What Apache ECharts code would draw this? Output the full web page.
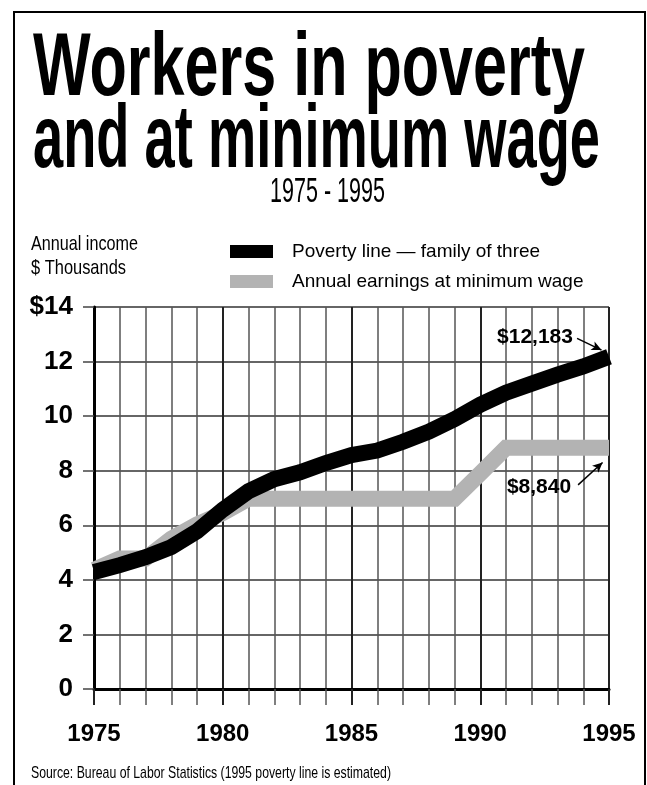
<!DOCTYPE html>
<html>
<head>
<meta charset="utf-8">
<script src="https://cdn.jsdelivr.net/npm/echarts@6/dist/echarts.min.js"></script>
<style>html,body{margin:0;padding:0;background:#fff}#c{width:647px;height:785px}</style>
</head>
<body>
<div id="c"></div>
<script>
// ---- data ----
const years = [1975,1976,1977,1978,1979,1980,1981,1982,1983,1984,1985,1986,1987,1988,1989,1990,1991,1992,1993,1994,1995];
const povertyLine = [4.29,4.54,4.83,5.20,5.78,6.57,7.25,7.69,7.94,8.28,8.57,8.74,9.06,9.43,9.89,10.42,10.86,11.19,11.52,11.82,12.18];
const minWageEarnings = [4.37,4.78,4.78,5.51,6.03,6.45,6.97,6.97,6.97,6.97,6.97,6.97,6.97,6.97,6.97,7.90,8.84,8.84,8.84,8.84,8.84];
const seriesNames = ['Poverty line \u2014 family of three', 'Annual earnings at minimum wage'];
const yTickValues = [0,2,4,6,8,10,12,14];
const yTickLabels = ['0','2','4','6','8','10','12','$14'];
const annotationTexts = ['$12,183', '$8,840'];

const FAMILY = "'Liberation Sans',Arial,sans-serif";

const cv = document.createElement('canvas').getContext('2d');
function fitText(text, x, y, targetW, size, weight, align) {
  cv.font = weight + ' ' + size + 'px ' + FAMILY;
  const w = cv.measureText(text).width;
  return {
    type: 'text', x: x, y: y, scaleX: targetW / w, silent: true,
    style: { text: text, fontSize: size, fontWeight: weight, fontFamily: FAMILY, fill: '#000',
      align: align, textAlign: align, verticalAlign: 'middle', textVerticalAlign: 'middle' }
  };
}

const chart = echarts.init(document.getElementById('c'), null, {renderer: 'canvas'});
const pairs = (vals) => years.map((y, i) => [y, vals[i]]);

const option = {
  animation: false,
  backgroundColor: '#fff',
  grid: { left: 94, right: 38, top: 307, bottom: 96, containLabel: false },
  legend: {
    orient: 'vertical', left: 230, top: 242, padding: 0,
    itemWidth: 43, itemHeight: 13, itemGap: 11, icon: 'rect',
    selectedMode: false,
    textStyle: { fontFamily: FAMILY, fontSize: 19, color: '#000', padding: [0,0,0,14] },
    data: [seriesNames[0], seriesNames[1]]
  },
  xAxis: {
    type: 'value', min: 1975, max: 1995, interval: 5,
    axisLine: { show: true, onZero: false, lineStyle: { color: '#000', width: 3 } },
    axisTick: { show: true, length: 16, lineStyle: { color: '#222', width: 2 } },
    minorTick: { show: true, splitNumber: 5, length: 16, lineStyle: { color: '#555', width: 1.5 } },
    splitLine: { show: true, lineStyle: { color: '#222', width: 2 } },
    minorSplitLine: { show: true, lineStyle: { color: '#555', width: 1.5 } },
    axisLabel: { show: true, margin: 33, fontFamily: FAMILY, fontWeight: 'bold', fontSize: 24, color: '#000',
      formatter: v => String(v) }
  },
  yAxis: {
    type: 'value', min: 0, max: 14, interval: 2,
    axisLine: { show: true, lineStyle: { color: '#000', width: 3 } },
    axisTick: { show: true, length: 11, lineStyle: { color: '#444', width: 1.5 } },
    splitLine: { show: true, lineStyle: { color: '#333', width: 1.5 } },
    axisLabel: { show: true, margin: 21, fontFamily: FAMILY, fontWeight: 'bold', fontSize: 26, color: '#000',
      formatter: v => yTickLabels[yTickValues.indexOf(v)] }
  },
  series: [
    {
      name: seriesNames[1], type: 'line', data: pairs(minWageEarnings),
      showSymbol: false, symbol: 'none', z: 3,
      itemStyle: { color: '#b3b3b3' },
      lineStyle: { color: '#b3b3b3', width: 16, join: 'miter', cap: 'butt' },
      markLine: {
        silent: true, symbol: ['none', 'arrow'], symbolSize: [7, 10],
        lineStyle: { color: '#000', width: 1.5, type: 'solid' },
        label: { show: false },
        data: [[{ coord: [1993.80, 7.48] }, { coord: [1994.75, 8.30] }]]
      },
      markPoint: {
        silent: true, symbol: 'circle', symbolSize: 0,
        label: { show: true, position: 'left', distance: 0, formatter: annotationTexts[1],
          fontFamily: FAMILY, fontWeight: 'bold', fontSize: 21, color: '#000' },
        data: [{ coord: [1993.53, 7.38] }]
      }
    },
    {
      name: seriesNames[0], type: 'line', data: pairs(povertyLine),
      showSymbol: false, symbol: 'none', z: 4,
      itemStyle: { color: '#000' },
      lineStyle: { color: '#000', width: 16, join: 'miter', cap: 'butt' },
      markLine: {
        silent: true, symbol: ['none', 'arrow'], symbolSize: [7, 10],
        lineStyle: { color: '#000', width: 1.5, type: 'solid' },
        label: { show: false },
        data: [[{ coord: [1993.76, 12.85] }, { coord: [1994.71, 12.42] }]]
      },
      markPoint: {
        silent: true, symbol: 'circle', symbolSize: 0,
        label: { show: true, position: 'left', distance: 0, formatter: annotationTexts[0],
          fontFamily: FAMILY, fontWeight: 'bold', fontSize: 21, color: '#000' },
        data: [{ coord: [1993.60, 12.91] }]
      }
    }
  ],
  graphic: [
    { type: 'rect', silent: true, shape: { x: 14, y: 12, width: 631, height: 800 },
      style: { fill: 'none', stroke: '#000', lineWidth: 2 } },
    fitText('Workers in poverty', 33, 70, 552, 89, 'bold', 'left'),
    fitText('and at minimum wage', 33, 142, 567, 89, 'bold', 'left'),
    fitText('1975 - 1995', 327.5, 192, 115, 35, 'normal', 'center'),
    fitText('Annual income', 31, 244, 107, 21, 'normal', 'left'),
    fitText('$ Thousands', 31, 268, 95, 21, 'normal', 'left'),
    fitText('Source: Bureau of Labor Statistics (1995 poverty line is estimated)', 31, 773, 360, 17, 'normal', 'left')
  ]
};
chart.setOption(option);
</script>
</body>
</html>
